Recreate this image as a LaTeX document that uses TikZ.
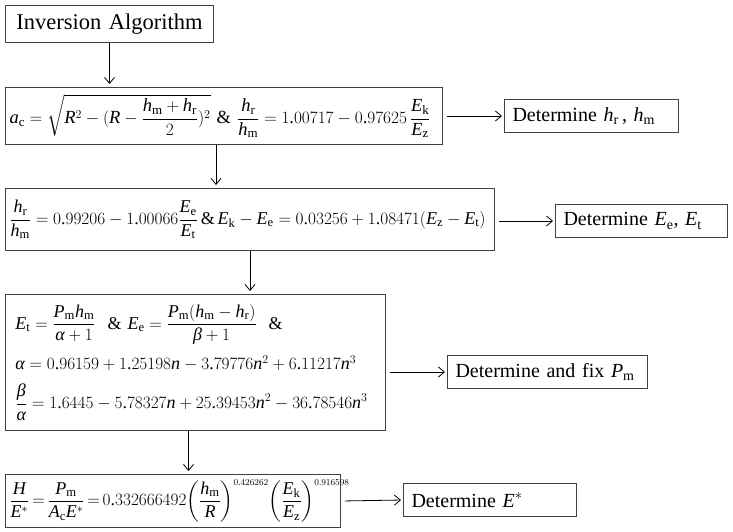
\documentclass[tikz,border=0pt]{standalone}
\usepackage{amsmath}
\usepackage{fontspec}
\setmainfont{Liberation Serif}
\usetikzlibrary{arrows.meta}
% Times-like letters and digits in math
\DeclareSymbolFont{operators}{TU}{\rmdefault}{m}{n}
\DeclareSymbolFont{letters}{TU}{\rmdefault}{m}{it}
\mathcode`\.="002E
\mathcode`\,="602C
\Umathchardef\alpha="0 \symletters "03B1
\Umathchardef\beta="0 \symletters "03B2
\relpenalty=10000
\binoppenalty=10000
\newcommand{\rs}[1]{_{\mathrm{#1}}}
\newcommand{\ex}[1]{^{\scriptscriptstyle #1}}
\tikzset{
  box/.style={draw=black!75, line width=1pt, anchor=north west, inner xsep=4pt, inner ysep=0pt, align=left},
  res/.style={box, inner xsep=8pt, minimum height=33pt, font=\fontsize{20}{24}\selectfont},
  eq/.style={box, font=\fontsize{18}{22}\selectfont},
  link/.style={-{Straight Barb[length=6pt,width=10pt]}, line width=0.8pt, shorten >=3pt}
}
\begin{document}
\begin{tikzpicture}
  \useasboundingbox (0,0) rectangle (733pt,-532pt);
  % main chain
  \node[box, text width=200pt, minimum height=37pt, align=center, font=\fontsize{22.5}{27}\selectfont] (IA) at (5pt,-5pt) {Inversion Algorithm};
  \node[eq, text width=429pt, minimum height=57pt, font=\fontsize{18.5}{22}\selectfont] (EQ1) at (5pt,-87pt)
    {$\displaystyle a\rs{c}=\sqrt{R^2-(R-\frac{h\rs{m}+h\rs{r}}{2})^2}\ \&\ \frac{h\rs{r}}{h\rs{m}}=1.00717-0.97625\,\frac{E\rs{k}}{E\rs{z}}$};
  \node[eq, text width=481pt, minimum height=62pt] (EQ2) at (5pt,-188pt)
    {$\displaystyle \frac{h\rs{r}}{h\rs{m}}=0.99206-1.00066\frac{E\rs{e}}{E\rs{t}}\,\&\,E\rs{k}-E\rs{e}=0.03256+1.08471(E\rs{z}-E\rs{t})$};
  \node[eq, text width=360pt, inner xsep=10pt, minimum height=136pt] (EQ3) at (5pt,-294pt)
    {$\displaystyle E\rs{t}=\frac{P\rs{m}h\rs{m}}{\alpha+1}\ \ \&\ E\rs{e}=\frac{P\rs{m}(h\rs{m}-h\rs{r})}{\beta+1}\ \ \&$\\[10pt]
     $\alpha=0.96159+1.25198n-3.79776n^2+6.11217n^3$\\[12pt]
     $\displaystyle \frac{\beta}{\alpha}=1.6445-5.78327n+25.39453n^2-36.78546n^3$};
  \node[eq, text width=327pt, minimum height=53pt] (EQ4) at (5pt,-474pt)
    {\thickmuskip=3mu $\displaystyle \frac{H}{E^*}=\frac{P\rs{m}}{A\rs{c}E^*}=0.332666492{\left(\frac{h\rs{m}}{R}\right)}\ex{0.426262}{\left(\frac{E\rs{k}}{E\rs{z}}\right)}\ex{0.916598}$};
  % results
  \node[res, text width=158pt] (D1) at (504pt,-99pt) {Determine $h\rs{r}$\,, $h\rs{m}$};
  \node[res, text width=156pt] (D2) at (555pt,-204pt) {Determine $E\rs{e}$, $E\rs{t}$};
  \node[res, text width=184pt] (D3) at (447pt,-355pt) {Determine and fix $P\rs{m}$};
  \node[res, text width=157pt] (D4) at (403pt,-483pt) {Determine $E^*$};
  % arrows
  \draw[link] (IA.south) -- (IA.south |- EQ1.north);
  \draw[link] ([xshift=-8pt]EQ1.south) -- ([xshift=-8pt]EQ1.south |- EQ2.north);
  \draw[link] (EQ2.south) -- (EQ2.south |- EQ3.north);
  \draw[link] ([xshift=-7pt]EQ3.south) -- ([xshift=-7pt]EQ3.south |- EQ4.north);
  \draw[link, shorten <=4pt, shorten >=2pt] (EQ1.east) -- (D1.west);
  \draw[link, shorten <=4pt, shorten >=2pt] (D2.west -| EQ2.east) -- (D2.west);
  \draw[link, shorten <=4pt, shorten >=2pt] (D3.west -| EQ3.east) -- (D3.west);
  \draw[link, shorten <=4pt, shorten >=2pt] (EQ4.east) -- (D4.west);
\end{tikzpicture}
\end{document}
